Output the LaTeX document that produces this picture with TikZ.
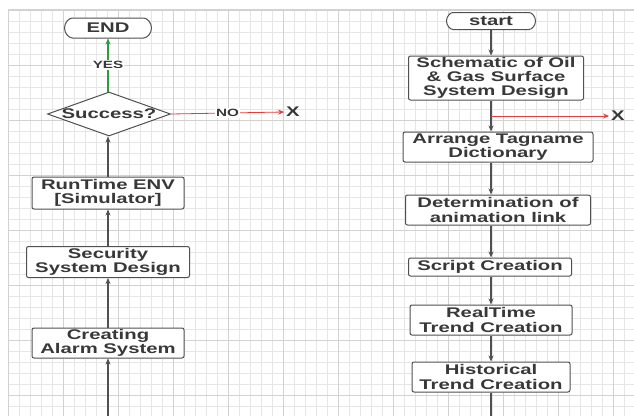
\documentclass[tikz,border=0pt]{standalone}
\usepackage{fontspec}
\setmainfont{Liberation Sans}[FakeStretch=1.45]
\usepackage{tikz}
\usetikzlibrary{shapes,arrows.meta,positioning}

\definecolor{inkgray}{HTML}{383838}
\definecolor{edgegray}{HTML}{505050}
\definecolor{gridminor}{HTML}{E6E6E6}
\definecolor{gridmajor}{HTML}{D2D2D2}
\definecolor{yesgreen}{HTML}{2E9A3A}
\definecolor{nored}{HTML}{E43C3C}

\begin{document}
\begin{tikzpicture}[x=1pt,y=-1pt,>={Stealth[length=6pt,width=5pt]},
    box/.style={draw=edgegray,line width=1pt,rounded corners=2pt,fill=white,text=inkgray,
        font=\fontsize{14}{14.2}\selectfont\bfseries,align=center,inner sep=0pt},
    term/.style={box,rounded rectangle},
    decision/.style={draw=edgegray,line width=1pt,fill=white,diamond,inner sep=0pt},
    link/.style={draw=edgegray,line width=1.1pt,->},
    lbl/.style={fill=white,text=inkgray,inner sep=1pt,font=\fontsize{10.5}{11}\selectfont\bfseries},
    cross/.style={text=inkgray,inner sep=2pt,font=\fontsize{14}{14}\selectfont\bfseries}]
    \useasboundingbox (0,0) rectangle (634,416);

    % Grid paper
    \fill[white] (0,0) rectangle (634,416);
    \foreach \x in {8,19,...,634} \draw[gridminor,line width=0.6pt] (\x,10) -- (\x,416);
    \foreach \y in {10,21,...,416} \draw[gridminor,line width=0.6pt] (8,\y) -- (634,\y);
    \foreach \x in {8,63,...,634} \draw[gridmajor,line width=0.8pt] (\x,10) -- (\x,416);
    \foreach \y in {10,65,...,416} \draw[gridmajor,line width=0.8pt] (8,\y) -- (634,\y);
    \draw[gridmajor,line width=1.5pt] (8,10) -- (634,10);

    % Left column (read upwards)
    \node[term,minimum width=87,minimum height=20] (end) at (108,28) {END};
    \node[decision,minimum width=123,minimum height=44] (success) at (109,114) {};
    \node[text=inkgray,font=\fontsize{14}{14}\selectfont\bfseries] at (success) {Success?};
    \node[box,minimum width=152,minimum height=32] (runtime) at (108,193) {RunTime ENV\\{}[Simulator]};
    \node[box,minimum width=163,minimum height=31] (security) at (108,262) {Security\\System Design};
    \node[box,minimum width=152,minimum height=30] (alarm) at (108,343) {Creating\\Alarm System};
    \coordinate (lbottom) at (108,416);
    \node[cross] (leftX) at (293,112) {X};

    \draw[link] (lbottom) -- (alarm.south);
    \draw[link] (alarm.north) -- (security.south);
    \draw[link] (security.north) -- (runtime.south);
    \draw[link] (runtime.north) -- (success.south -| runtime.north);
    \draw[link,draw=yesgreen,fill=yesgreen] (success.north -| end.south) -- node[lbl] {YES} (end.south);
    \draw[nored,line width=0.8pt,->] (success.east) -- node[lbl] {NO} (leftX.west);

    % Right column (read downwards)
    \node[term,minimum width=89,minimum height=17] (start) at (491,21) {start};
    \node[box,minimum width=175,minimum height=44] (schematic) at (496,78) {Schematic of Oil\\\& Gas Surface\\System Design};
    \node[box,minimum width=190,minimum height=30] (tagname) at (498,147) {Arrange Tagname\\Dictionary};
    \node[box,minimum width=185,minimum height=30] (animlink) at (498,210) {Determination of\\animation link};
    \node[box,minimum width=163,minimum height=18] (script) at (490,267) {Script Creation};
    \node[box,minimum width=162,minimum height=30] (realtime) at (491,320) {RealTime\\Trend Creation};
    \node[box,minimum width=158,minimum height=30] (historical) at (491,377) {Historical\\Trend Creation};
    \coordinate (rbottom) at (491,416);
    \coordinate (branch) at (491,116);
    \node[cross] (rightX) at (618,116) {X};

    \draw[link] (start.south) -- (start.south |- schematic.north);
    \draw[link] (schematic.south -| start) -- (tagname.north -| start);
    \draw[link] (tagname.south -| start) -- (animlink.north -| start);
    \draw[link] (animlink.south -| start) -- (script.north -| start);
    \draw[link] (script.south -| start) -- (realtime.north -| start);
    \draw[link] (realtime.south -| start) -- (historical.north -| start);
    \draw[edgegray,line width=1.1pt] (historical.south -| start) -- (rbottom);
    \draw[nored,line width=0.8pt,->] (branch) -- (rightX.west);
\end{tikzpicture}
\end{document}
